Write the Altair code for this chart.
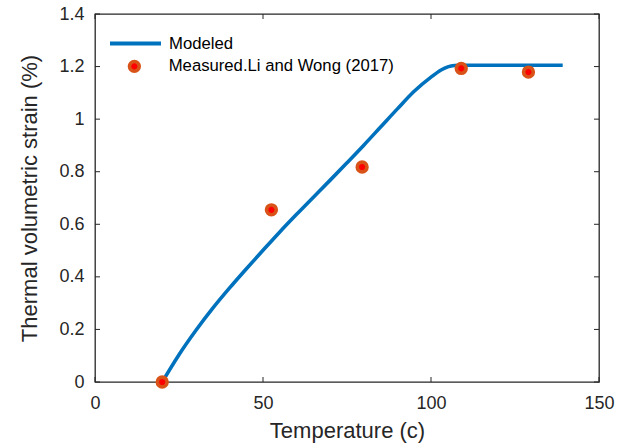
import altair as alt
import pandas as pd

# ---- data ----
model_T = [20, 25, 30, 35, 40, 45, 50, 55, 60, 65, 70, 75, 80, 85, 90, 95, 100, 103, 105, 107, 109, 139.2]
model_eps = [0, 0.104, 0.196, 0.280, 0.357, 0.430, 0.501, 0.571, 0.638, 0.703, 0.768, 0.834,
             0.901, 0.970, 1.039, 1.106, 1.160, 1.187, 1.199, 1.204, 1.205, 1.205]
meas_T = [20, 52.5, 79.5, 109, 129]
meas_eps = [0, 0.655, 0.818, 1.193, 1.179]
x_ticks = [0, 50, 100, 150]
y_ticks = [0, 0.2, 0.4, 0.6, 0.8, 1.0, 1.2, 1.4]

W, H = 504, 368
FONT = "Liberation Sans"
AX = "#262626"
BLUE = "#0072BD"
ORANGE = "#D95319"

model_df = pd.DataFrame({"T": model_T, "eps": model_eps, "series": ["Modeled"] * len(model_T)})
meas_df = pd.DataFrame({"T": meas_T, "eps": meas_eps,
                        "src": ["Measured.Li and Wong (2017)"] * len(meas_T)})
xt_df = pd.DataFrame({"T": x_ticks})
yt_df = pd.DataFrame({"eps": y_ticks})

xscale = alt.Scale(domain=[0, 150], nice=False, zero=False)
yscale = alt.Scale(domain=[0, 1.4], nice=False)

x_axis = alt.Axis(values=x_ticks, title="Temperature (c)", domain=False, ticks=False, tickSize=0,
                  grid=False, labelPadding=12.5, titlePadding=8, labelFontSize=18, titleFontSize=22,
                  labelFlush=False, labelOverlap=False,
                  labelFont=FONT, titleFont=FONT, labelColor=AX, titleColor=AX, titleFontWeight="normal")
y_axis = alt.Axis(values=y_ticks, title="Thermal volumetric strain (%)", format=".1~f", domain=False,
                  ticks=False, tickSize=0, grid=False, labelPadding=11, titlePadding=17,
                  labelFlush=False, labelOverlap=False,
                  labelFontSize=18, titleFontSize=22, labelFont=FONT, titleFont=FONT,
                  labelColor=AX, titleColor=AX, titleFontWeight="normal")

line = alt.Chart(model_df).mark_line(strokeWidth=3.6, interpolate="monotone").encode(
    x=alt.X("T:Q", scale=xscale, axis=x_axis),
    y=alt.Y("eps:Q", scale=yscale, axis=y_axis),
    stroke=alt.Stroke("series:N", scale=alt.Scale(domain=["Modeled"], range=[BLUE]),
                      legend=alt.Legend(title=None, orient="none", legendX=13, legendY=2,
                                        symbolType="stroke", symbolSize=2601, symbolStrokeWidth=4,
                                        labelFont=FONT, labelFontSize=16.7, labelColor="#000000",
                                        labelOffset=6, labelLimit=400)),
)

points = alt.Chart(meas_df).mark_point(shape="circle", filled=True, size=95, stroke=ORANGE,
                                       strokeWidth=3.6, opacity=1).encode(
    x=alt.X("T:Q", scale=xscale),
    y=alt.Y("eps:Q", scale=yscale),
    fill=alt.Fill("src:N", scale=alt.Scale(domain=["Measured.Li and Wong (2017)"], range=["#FF0000"]),
                  legend=alt.Legend(title=None, orient="none", legendX=31, legendY=44,
                                    symbolType="circle", symbolSize=95, symbolStrokeWidth=3.6,
                                    symbolStrokeColor=ORANGE, symbolOpacity=1,
                                    labelFont=FONT, labelFontSize=16.7, labelColor="#000000",
                                    labelOffset=26, labelLimit=400)),
)

tick_b = alt.Chart(xt_df).mark_rule(color=AX, strokeWidth=1).encode(
    x=alt.X("T:Q", scale=xscale), y=alt.value(H), y2=alt.value(H - 5))
tick_t = alt.Chart(xt_df).mark_rule(color=AX, strokeWidth=1).encode(
    x=alt.X("T:Q", scale=xscale), y=alt.value(0), y2=alt.value(5))
tick_l = alt.Chart(yt_df).mark_rule(color=AX, strokeWidth=1).encode(
    y=alt.Y("eps:Q", scale=yscale), x=alt.value(0), x2=alt.value(5))
tick_r = alt.Chart(yt_df).mark_rule(color=AX, strokeWidth=1).encode(
    y=alt.Y("eps:Q", scale=yscale), x=alt.value(W), x2=alt.value(W - 5))

chart = alt.layer(tick_b, tick_t, tick_l, tick_r, line, points).resolve_legend(
    stroke="independent", fill="independent"
).properties(
    width=W, height=H, autosize="none",
    padding={"left": 95, "top": 14, "right": 38, "bottom": 64},
    background="white",
).configure_view(stroke=AX, strokeWidth=1.3)

chart.save("out.html", embed_options={"renderer": "svg", "actions": False})
